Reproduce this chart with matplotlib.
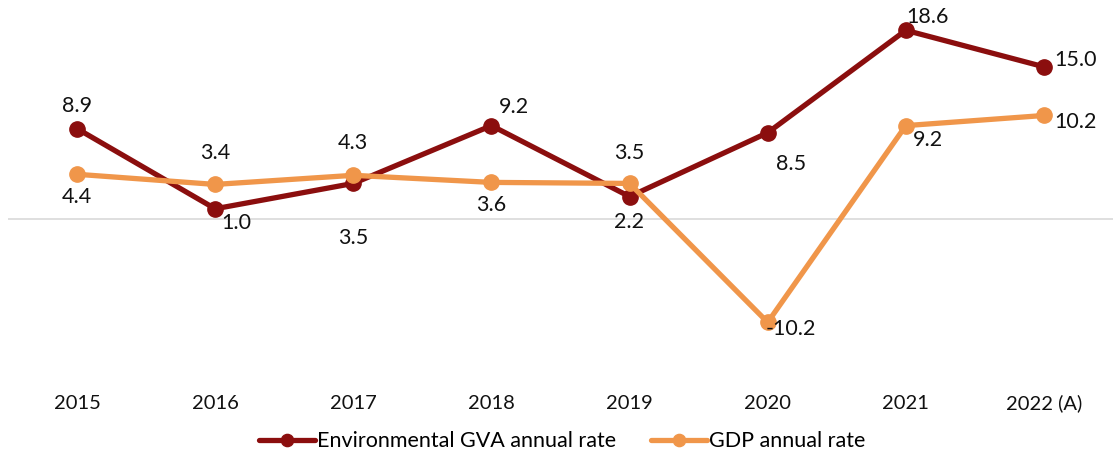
import matplotlib.pyplot as plt

years = ["2015", "2016", "2017", "2018", "2019", "2020", "2021", "2022 (A)"]
env_gva = [8.9, 1.0, 3.5, 9.2, 2.2, 8.5, 18.6, 15.0]
gdp = [4.4, 3.4, 4.3, 3.6, 3.5, -10.2, 9.2, 10.2]

# label offsets in pixels (dx, dy) relative to each point
env_offsets = [(0, 23), (21, -14), (0, -55), (22, 19), (-1, -25), (23, -31), (22, 13), (32, 7)]
gdp_offsets = [(0, -23), (0, 31), (0, 32), (0, -23), (0, 30), (23, -7), (22, -14), (32, -7)]

dark_red = "#8B0E0E"
orange = "#F0964A"

plt.rcParams['font.family'] = ['Lato', 'DejaVu Sans']

fig = plt.figure(figsize=(11.13, 4.55), dpi=100)
ax = fig.add_axes([0.0072, 0.1846, 0.9928, 0.78])

x = list(range(len(years)))
ax.axhline(0, color="#D9D9D9", lw=1.2, zorder=0)
ax.plot(x, env_gva, color=dark_red, lw=3.8, marker="o", markersize=11,
        label="Environmental GVA annual rate", solid_capstyle="round")
ax.plot(x, gdp, color=orange, lw=3.8, marker="o", markersize=11,
        label="GDP annual rate", solid_capstyle="round")

for xi, v, off in zip(x, env_gva, env_offsets):
    ax.annotate(f"{v:.1f}", (xi, v), xytext=off, textcoords="offset pixels",
                ha="center", va="center", fontsize=15.5, color="#111111")
for xi, v, off in zip(x, gdp, gdp_offsets):
    ax.annotate(f"{v:.1f}", (xi, v), xytext=off, textcoords="offset pixels",
                ha="center", va="center", fontsize=15.5, color="#111111")

ax.set_xlim(-0.5, len(years) - 0.5)
ax.set_ylim(-15, 20)
ax.set_yticks([])
ax.set_xticks(x)
ax.set_xticklabels(years, fontsize=14.5, color="#111111")
ax.tick_params(axis="x", length=0, pad=17)
for s in ax.spines.values():
    s.set_visible(False)

fig.legend(loc="center", bbox_to_anchor=(0.505, 0.03), ncol=2, frameon=False,
           fontsize=15.5, handlelength=2.6, columnspacing=1.6, handletextpad=0.1,
           markerscale=0.8)

fig.savefig("out.png", dpi=100)
